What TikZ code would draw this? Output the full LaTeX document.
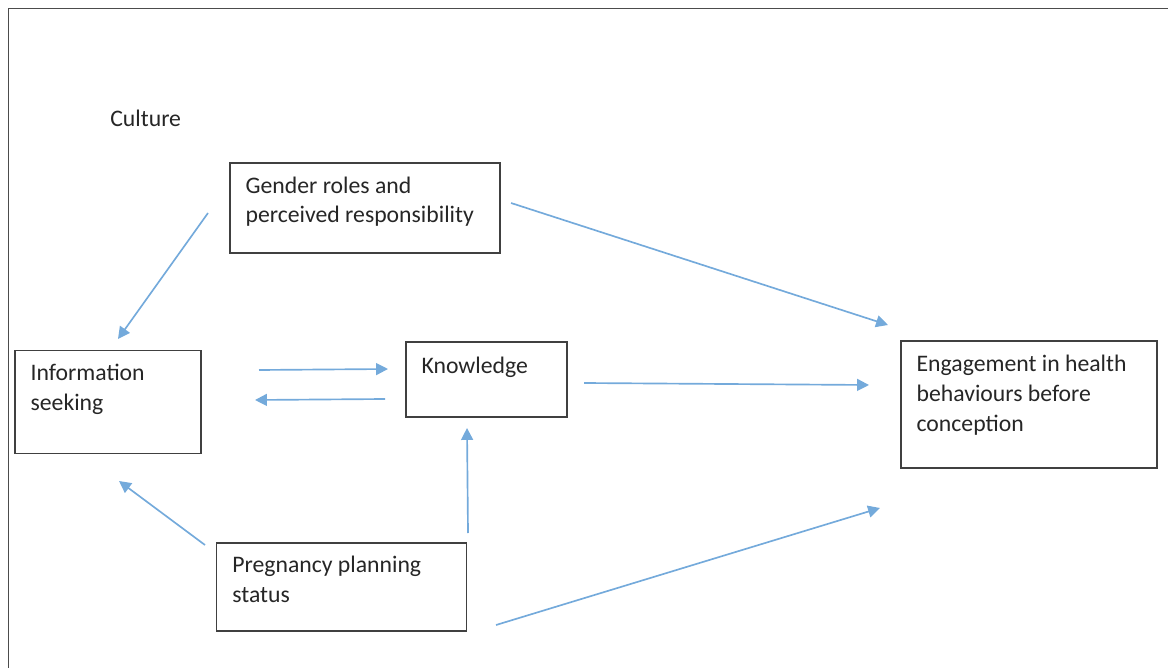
\documentclass[tikz,border=0pt]{standalone}
\usepackage{fontspec}
\setmainfont{Carlito}
\usetikzlibrary{arrows.meta}

\definecolor{linkblue}{HTML}{5B9BD5}
\tikzset{
  box/.style={draw=black!75,line width=0.85pt},
  lbl/.style={anchor=north west,inner sep=0pt,align=left,text=black!85},
  link/.style={draw=linkblue!85,line width=0.95pt,-{Triangle[length=6.8pt,width=6.8pt]}}
}

\begin{document}
\begin{tikzpicture}[x=0.02cm,y=-0.02cm,font=\fontsize{13.5}{17}\selectfont]
  \useasboundingbox (0,0) rectangle (1168,668);
  % outer frame, cut off at right and bottom
  \draw[black!70,line width=1.1pt] (8.5,668) |- (1168,8.5);

  \node[lbl] (culture) at (110,110) {Culture};

  % boxes
  \node[box,minimum width=5.4cm,minimum height=1.8cm] (gender) at (365,208) {};
  \node[box,minimum width=3.72cm,minimum height=2.06cm] (info) at (108,402) {};
  \node[box,minimum width=3.22cm,minimum height=1.5cm] (know) at (486.5,379.5) {};
  \node[box,minimum width=5.12cm,minimum height=2.54cm] (engage) at (1029,404.7) {};
  \node[box,minimum width=5cm,minimum height=1.76cm] (preg) at (341.7,586.8) {};

  % box texts
  \node[lbl] at ([xshift=0.32cm,yshift=-0.28cm]gender.north west) {Gender roles and\\perceived responsibility};
  \node[lbl] at ([xshift=0.32cm,yshift=-0.28cm]info.north west) {Information\\seeking};
  \node[lbl] at ([xshift=0.32cm,yshift=-0.3cm]know.north west) {Knowledge};
  \node[lbl] at ([xshift=0.32cm,yshift=-0.28cm]engage.north west) {Engagement in health\\behaviours before\\conception};
  \node[lbl] at ([xshift=0.32cm,yshift=-0.28cm]preg.north west) {Pregnancy planning\\status};

  % free arrow ends
  \coordinate (g1) at (208,213);   \coordinate (i1) at (118,339);
  \coordinate (g2) at (511,203);   \coordinate (e1) at (888,325);
  \coordinate (i2) at (259,370);   \coordinate (k1) at (388,369);
  \coordinate (k2) at (385,399);   \coordinate (i3) at (255,400);
  \coordinate (k3) at (584,383);   \coordinate (e2) at (869,385);
  \coordinate (p1) at (205,545);   \coordinate (i4) at (119,481);
  \coordinate (p2) at (468,533);   \coordinate (k4) at (467,428);
  \coordinate (p3) at (496,625);   \coordinate (e3) at (880,508);

  \foreach \a/\b in {g1/i1,g2/e1,i2/k1,k2/i3,k3/e2,p1/i4,p2/k4,p3/e3}
    \draw[link] (\a) -- (\b);
\end{tikzpicture}
\end{document}
